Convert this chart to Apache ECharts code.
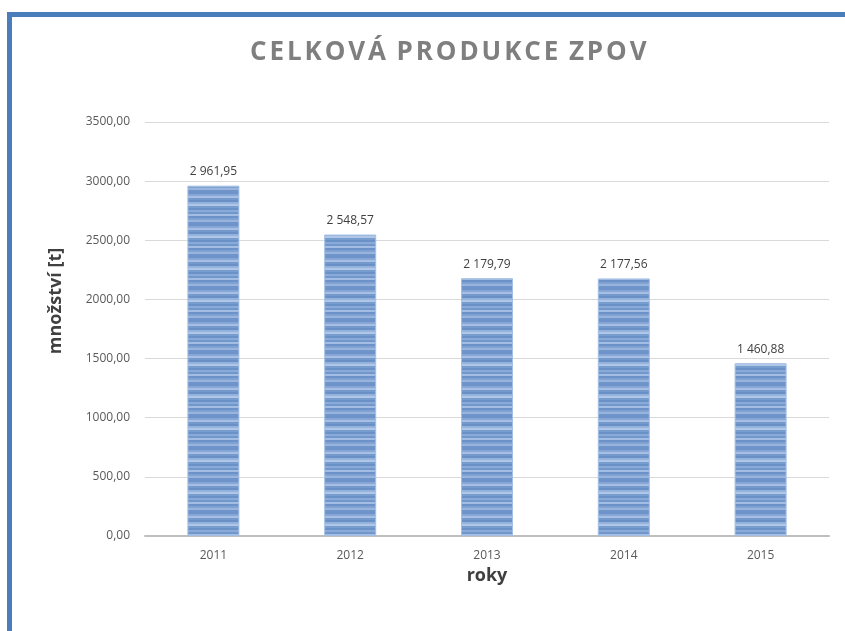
<!DOCTYPE html>
<html lang="cs">
<head>
  <meta charset="UTF-8">
  <title>Celková produkce ZPOV</title>
  <script src="https://cdn.jsdelivr.net/npm/echarts@6/dist/echarts.min.js"></script>
  <style>
    html, body { margin: 0; padding: 0; background: #fff; }
    .wrap { position: relative; width: 845px; height: 631px; }
    #chart { width: 845px; height: 631px; }
    .chart-title {
      position: absolute; left: 250px; top: 37px; margin: 0;
      font-family: 'Open Sans', sans-serif; font-weight: bold; font-size: 26px; line-height: 26px;
      letter-spacing: 2.9px; word-spacing: -2px; color: #7f7f7f; white-space: nowrap;
    }
  </style>
</head>
<body>
  <div class="wrap">
    <div id="chart"></div>
    <h1 class="chart-title">CELKOVÁ PRODUKCE ZPOV</h1>
  </div>
  <script>
    // data
    const years = ['2011', '2012', '2013', '2014', '2015'];
    const amounts = [2961.95, 2548.57, 2179.79, 2177.56, 1460.88];

    // cz number format: "2 961,95"
    function fmtCz(v, sep) {
      const parts = v.toFixed(2).split('.');
      let intPart = parts[0];
      if (sep) intPart = intPart.replace(/\B(?=(\d{3})+(?!\d))/g, ' ');
      return intPart + ',' + parts[1];
    }

    // striped fill like the original bars
    function stripePattern() {
      const shades = ['#6d93ca', '#86a7d6', '#a6bfe3', '#7399cd', '#6a90c8', '#94b2dc',
                      '#b0c7e7', '#779cce', '#6b91c9', '#8aaad8', '#7297cc', '#a2bce2',
                      '#6c92c9', '#7fa2d3', '#99b5de', '#6e94ca'];
      const c = document.createElement('canvas');
      c.width = 4; c.height = shades.length * 2;
      const ctx = c.getContext('2d');
      shades.forEach((s, i) => { ctx.fillStyle = s; ctx.fillRect(0, i * 2, 4, 2); });
      return c;
    }

    const nameFont = { fontFamily: 'Open Sans', fontWeight: 'bold', fontSize: 18, color: '#404040' };

    const chart = echarts.init(document.getElementById('chart'));
    chart.setOption({
      animation: false,
      graphic: [{
        type: 'rect',
        shape: { x: 9.5, y: 14.5, width: 900, height: 700 },
        style: { fill: 'none', stroke: '#4a7ebb', lineWidth: 5 },
        silent: true
      }, {
        // y axis title sits above the plot centre in the original
        type: 'text',
        x: 56, y: 301,
        rotation: Math.PI / 2,
        style: { text: 'množství [t]', align: 'center', verticalAlign: 'middle',
                 fill: '#404040', font: 'bold 18px "Open Sans"' }
      }],
      grid: { left: 145, right: 16, top: 122, bottom: 95 },
      xAxis: {
        type: 'category',
        data: years,
        name: 'roky',
        nameLocation: 'middle',
        nameGap: 31,
        nameTextStyle: nameFont,
        axisLine: { lineStyle: { color: '#bfbfbf', width: 2 } },
        axisTick: { show: false },
        axisLabel: { fontFamily: 'Open Sans', fontSize: 12, color: '#595959', margin: 14 }
      },
      yAxis: {
        type: 'value',
        min: 0,
        max: 3500,
        interval: 500,
        axisLine: { show: false },
        axisTick: { show: false },
        splitLine: { lineStyle: { color: '#d9d9d9', width: 1 } },
        axisLabel: { fontFamily: 'Open Sans', fontSize: 12, color: '#595959', margin: 15,
                     formatter: v => fmtCz(v, false) }
      },
      series: [{
        type: 'bar',
        data: amounts,
        barWidth: 52,
        itemStyle: {
          color: { image: stripePattern(), repeat: 'repeat' },
          borderColor: '#a3bfe4',
          borderWidth: 1
        },
        label: {
          show: true,
          position: 'top',
          distance: 8,
          fontFamily: 'Open Sans',
          fontSize: 12,
          color: '#404040',
          formatter: p => fmtCz(p.value, true)
        }
      }]
    });
  </script>
</body>
</html>
